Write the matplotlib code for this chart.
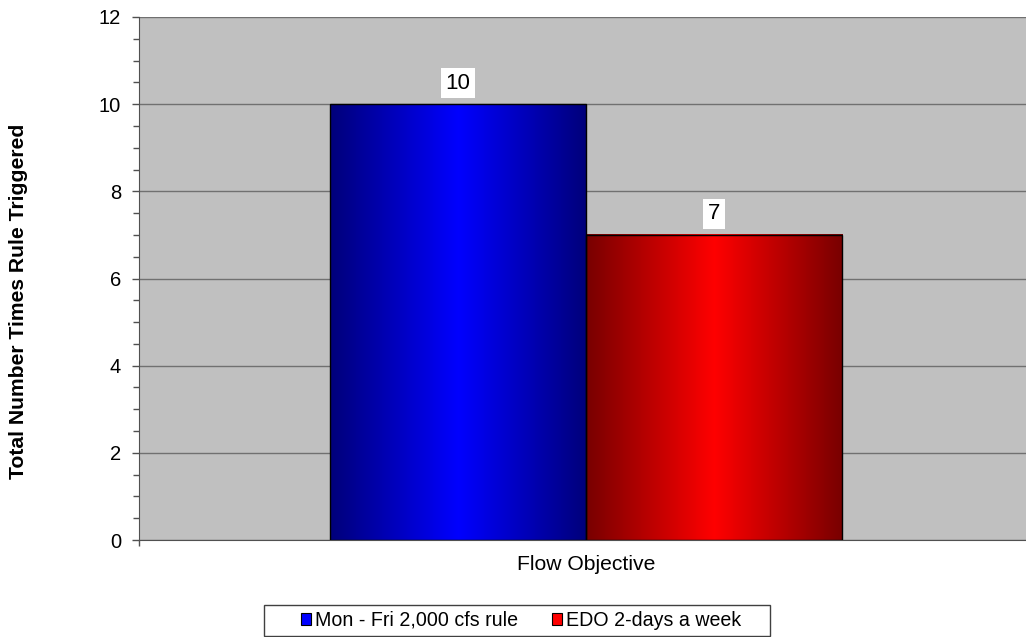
import numpy as np
import matplotlib
matplotlib.use("Agg")
import matplotlib.pyplot as plt
from matplotlib.patches import Rectangle, Patch
from matplotlib.colors import to_rgb

plt.rcParams['font.family'] = ['Liberation Sans', 'DejaVu Sans']

category = "Flow Objective"
series_names = ["Mon - Fri 2,000 cfs rule", "EDO 2-days a week"]
series_values = [10, 7]
bright_colors = ["#0000FF", "#FF0000"]
dark_colors = ["#00007A", "#780000"]
yticks = [0, 2, 4, 6, 8, 10, 12]

W, H = 1026, 637
fig = plt.figure(figsize=(W / 100, H / 100), dpi=100)
ax = fig.add_axes([139 / W, 1 - 540 / H, 894 / W, 523 / H])
ax.set_facecolor("#C0C0C0")

bar_w = 0.2865
offsets = [-bar_w / 2, bar_w / 2]


def gradient_image(dark, bright, n=256):
    t = np.linspace(0, 1, n)
    prof = np.clip(1 - np.abs(2 * t - 1), 0, 1)
    d = np.array(to_rgb(dark))
    b = np.array(to_rgb(bright))
    row = d[None, :] + (b - d)[None, :] * prof[:, None]
    return row[None, :, :]


for off, val, dk, br in zip(offsets, series_values, dark_colors, bright_colors):
    x0 = off - bar_w / 2
    ax.imshow(gradient_image(dk, br), extent=(x0, x0 + bar_w, 0, val),
              aspect="auto", zorder=2, interpolation="bilinear")
    ax.add_patch(Rectangle((x0, 0), bar_w, val, fill=False,
                           edgecolor="black", linewidth=1.0, zorder=3))
    ax.text(off, val + 0.48, str(val), ha="center", va="center", fontsize=16,
            zorder=4, bbox=dict(boxstyle="square,pad=0.2", facecolor="white",
                                edgecolor="none"))

ax.set_xlim(-0.5, 0.5)
ax.set_ylim(0, 12)

ax.set_yticks(yticks)
ax.set_yticks(np.arange(0, 12.01, 0.5), minor=True)
ax.set_yticklabels([str(v) for v in yticks], fontsize=14.5)
ax.tick_params(axis="y", which="major", length=5, width=1, color="#505050", pad=8)
ax.tick_params(axis="y", which="minor", length=4.5, width=1, color="#505050")
ax.set_xticks([-0.5, 0.5])
ax.set_xticklabels([])
ax.tick_params(axis="x", length=4, width=1, color="#505050")
ax.grid(axis="y", which="major", color="#707070", linewidth=1.0, zorder=1)
ax.set_axisbelow(True)
for s in ["top", "right"]:
    ax.spines[s].set_visible(False)
ax.spines["left"].set_color("#505050")
ax.spines["bottom"].set_color("#505050")

fig.text(586.5 / W, 1 - 565 / H, category, ha="center", va="center", fontsize=15.2)
fig.text(19 / W, 1 - 301 / H, "Total Number Times Rule Triggered", rotation=90,
         ha="center", va="center", fontsize=15.2, fontweight="bold")

handles = [Patch(facecolor=c, edgecolor="black", linewidth=0.8) for c in bright_colors]
leg = fig.legend(handles, series_names, loc="center",
                 bbox_to_anchor=(521 / W, 1 - 620.5 / H),
                 ncol=2, fontsize=14.1, frameon=False,
                 handlelength=0.5, handleheight=0.5, handletextpad=0.2,
                 columnspacing=1.75, borderpad=0.0, borderaxespad=0)
fig.add_artist(Rectangle((264 / W, 1 - 636 / H), 506 / W, 31 / H,
                         transform=fig.transFigure, fill=False,
                         edgecolor="#404040", linewidth=1.0))

fig.savefig("out.png", dpi=100)
